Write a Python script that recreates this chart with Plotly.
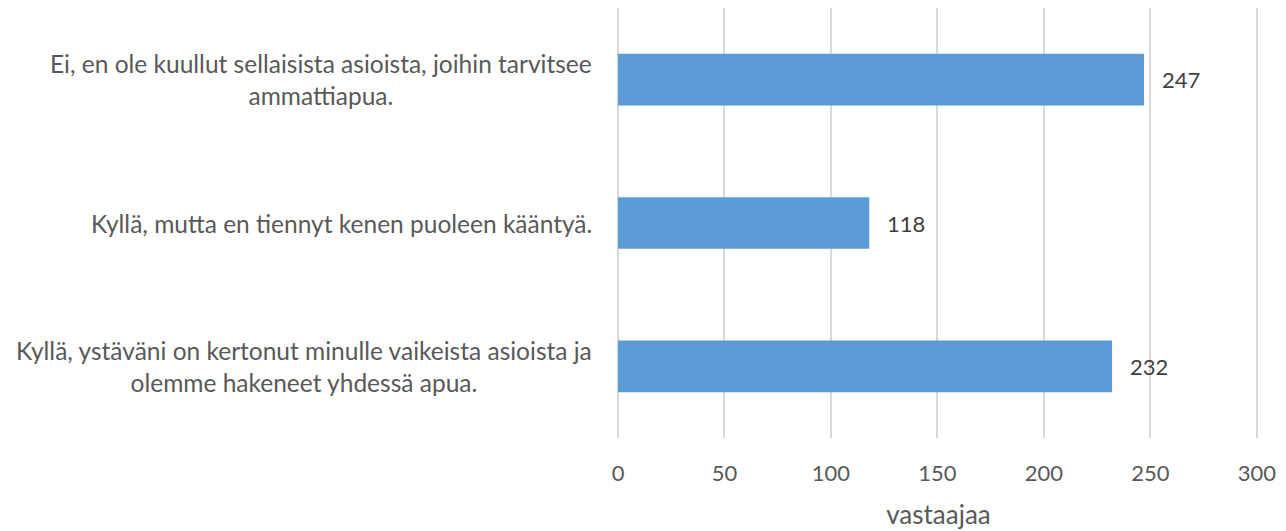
import plotly.graph_objects as go

categories = [
    "Ei, en ole kuullut sellaisista asioista, joihin tarvitsee<br>ammattiapua.",
    "Kyllä, mutta en tiennyt kenen puoleen kääntyä.",
    "Kyllä, ystäväni on kertonut minulle vaikeista asioista ja<br>olemme hakeneet yhdessä apua.",
]
values = [247, 118, 232]
x_ticks = [0, 50, 100, 150, 200, 250, 300]
x_title = "vastaajaa"

FONT = "Lato"
TXT = "#595959"
BAR = "#5b9bd5"
GRID = "#d9d9d9"

fig = go.Figure()
fig.add_trace(go.Bar(
    x=values, y=categories, orientation="h",
    marker=dict(color=BAR, line=dict(width=0)),
    hoverinfo="x+y",
))

annotations = []
for c, v in zip(categories, values):
    annotations.append(dict(
        x=v, y=c, xref="x", yref="y", text=str(v), showarrow=False,
        xanchor="left", xshift=16, font=dict(family=FONT, size=22, color="#404040"),
    ))
    annotations.append(dict(
        x=0, y=c, xref="paper", yref="y", text=c, showarrow=False,
        xanchor="right", xshift=-24, align="center",
        font=dict(family=FONT, size=24.5, color=TXT),
    ))

fig.update_layout(
    width=1278, height=523,
    margin=dict(l=610, r=27, t=0, b=93, pad=0),
    paper_bgcolor="white", plot_bgcolor="white",
    bargap=0.64,
    showlegend=False,
    font=dict(family=FONT, size=22, color=TXT),
    xaxis=dict(
        range=[0, 301], tickvals=x_ticks, automargin=False,
        showgrid=True, gridcolor=GRID, gridwidth=1.5,
        zeroline=True, zerolinecolor=GRID, zerolinewidth=1.5,
        showline=False,
        ticks="", ticklabelstandoff=20,
        tickfont=dict(family=FONT, size=22, color=TXT),
        title=dict(text=x_title, font=dict(family=FONT, size=26, color=TXT), standoff=20),
        fixedrange=True,
    ),
    yaxis=dict(
        autorange="reversed", showticklabels=False, showgrid=False,
        zeroline=False, showline=False, ticks="", automargin=False,
        fixedrange=True,
    ),
    annotations=annotations,
)

fig.write_html("out.html")
